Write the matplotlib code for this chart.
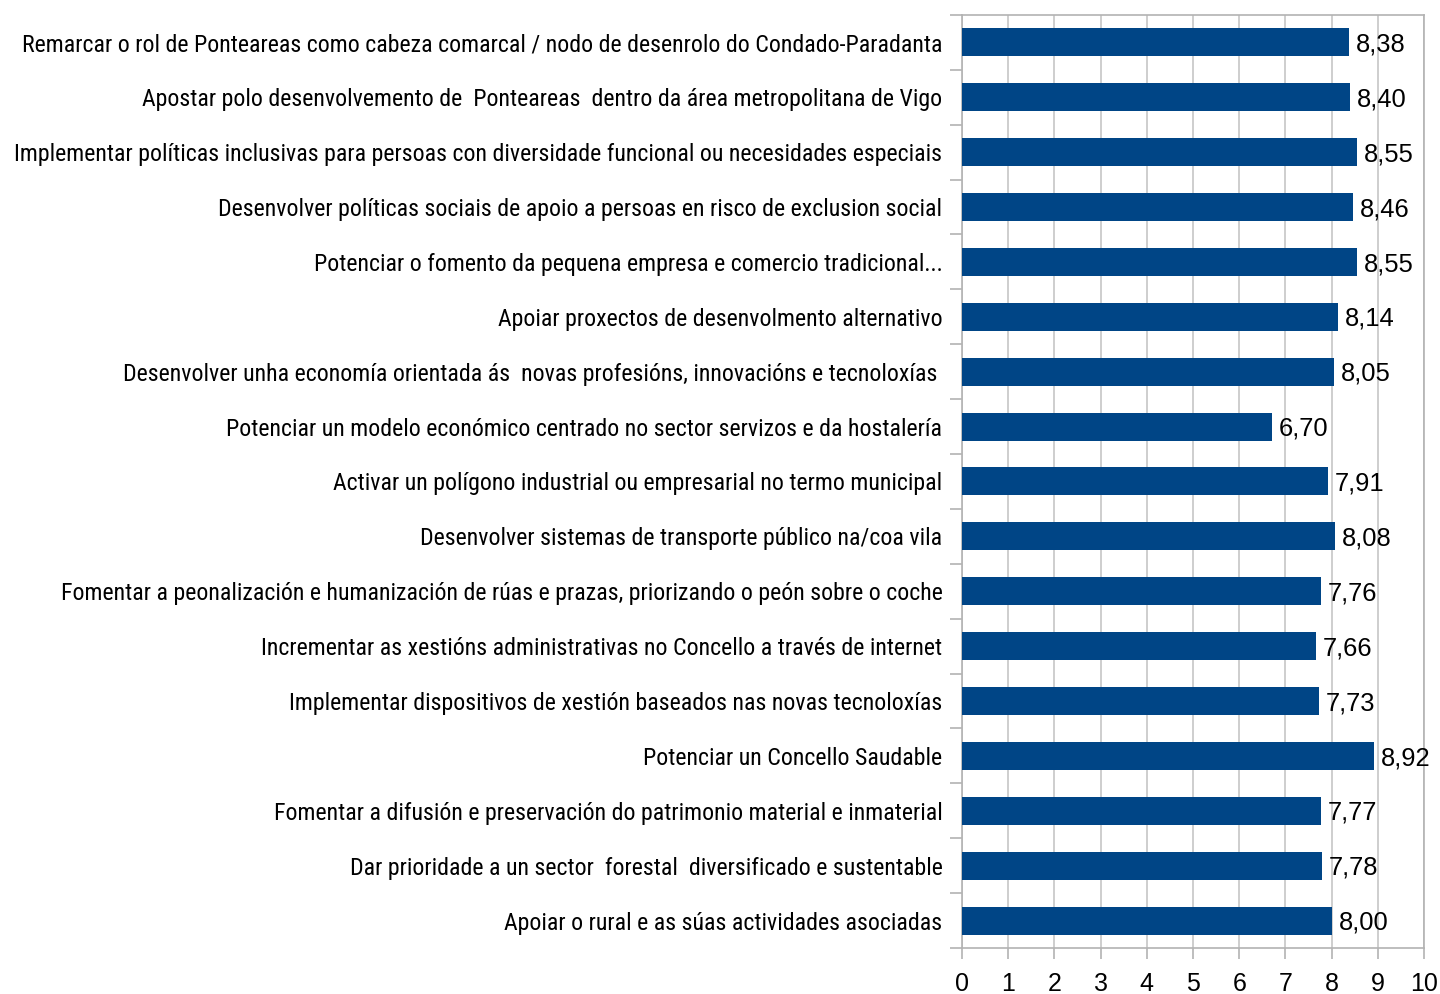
import matplotlib
matplotlib.use("Agg")
import matplotlib.pyplot as plt
from matplotlib import font_manager
from matplotlib.font_manager import FontProperties

categories = [
    "Remarcar o rol de Ponteareas como cabeza comarcal / nodo de desenrolo do Condado-Paradanta",
    "Apostar polo desenvolvemento de  Ponteareas  dentro da área metropolitana de Vigo",
    "Implementar políticas inclusivas para persoas con diversidade funcional ou necesidades especiais",
    "Desenvolver políticas sociais de apoio a persoas en risco de exclusion social",
    "Potenciar o fomento da pequena empresa e comercio tradicional...",
    "Apoiar proxectos de desenvolmento alternativo",
    "Desenvolver unha economía orientada ás  novas profesións, innovacións e tecnoloxías ",
    "Potenciar un modelo económico centrado no sector servizos e da hostalería",
    "Activar un polígono industrial ou empresarial no termo municipal",
    "Desenvolver sistemas de transporte público na/coa vila",
    "Fomentar a peonalización e humanización de rúas e prazas, priorizando o peón sobre o coche",
    "Incrementar as xestións administrativas no Concello a través de internet",
    "Implementar dispositivos de xestión baseados nas novas tecnoloxías",
    "Potenciar un Concello Saudable",
    "Fomentar a difusión e preservación do patrimonio material e inmaterial",
    "Dar prioridade a un sector  forestal  diversificado e sustentable",
    "Apoiar o rural e as súas actividades asociadas",
]
values = [8.38, 8.40, 8.55, 8.46, 8.55, 8.14, 8.05, 6.70, 7.91, 8.08,
          7.76, 7.66, 7.73, 8.92, 7.77, 7.78, 8.00]
x_ticks = list(range(0, 11))

plt.rcParams['font.family'] = ['Liberation Sans', 'DejaVu Sans']

# look for a narrow / condensed sans font for the category labels
label_font = None
prefs = ["liberation sans narrow", "roboto condensed", "open sans condensed",
         "noto sans condensed", "dejavu sans condensed"]
entries = font_manager.fontManager.ttflist
for p in prefs:
    for f in entries:
        nm = (f.name + " " + str(f.stretch) + " " + f.fname).lower()
        if p.split()[0] in nm and ("narrow" in nm or "condensed" in nm) \
                and f.weight in (400, "normal", "regular") and f.style == "normal":
            label_font = f.fname
            break
    if label_font:
        break
if label_font:
    label_fp = FontProperties(fname=label_font)
else:
    label_fp = FontProperties(family=['Liberation Sans', 'DejaVu Sans'])

fig = plt.figure(figsize=(14.4, 9.94), dpi=100)
ax = fig.add_axes([0.668, 0.0463, 0.321, 0.9387])

# fit the label size so a sample label spans like the reference (~799 px)
renderer = fig.canvas.get_renderer()
probe = fig.text(0, 0, categories[1], fontproperties=label_fp, fontsize=18.4)
w = probe.get_window_extent(renderer).width
probe.remove()
label_size = min(18.4, 18.4 * 799.0 / w)
label_fp.set_size(label_size)

n = len(categories)
ypos = list(range(n))
ax.barh(ypos, values, height=0.51, color="#004586", zorder=3)
ax.set_ylim(n - 0.5, -0.5)
ax.set_xlim(0, 10)
ax.set_xticks(x_ticks)
ax.set_xticklabels([str(t) for t in x_ticks], fontsize=18)
ax.grid(axis='x', color='#c6c6c6', linewidth=1.2, zorder=0)

ax.set_yticks(ypos)
ax.set_yticklabels(categories, fontproperties=label_fp)
ax.tick_params(axis='y', length=0, pad=14)
ax.set_yticks([i - 0.5 for i in range(n + 1)], minor=True)
ax.tick_params(axis='y', which='minor', length=8.5, color='#b3b3b3', width=1.2)
ax.tick_params(axis='x', length=8, color='#b3b3b3', width=1.2, pad=9)

for s in ax.spines.values():
    s.set_color('#b3b3b3')
    s.set_linewidth(1.2)

for y, v in zip(ypos, values):
    ax.annotate(f"{v:.2f}".replace('.', ','), xy=(v, y), xytext=(5, -6.6),
                textcoords='offset points', va='baseline', ha='left',
                fontsize=18.4, zorder=4)

fig.savefig("out.png", dpi=100)
